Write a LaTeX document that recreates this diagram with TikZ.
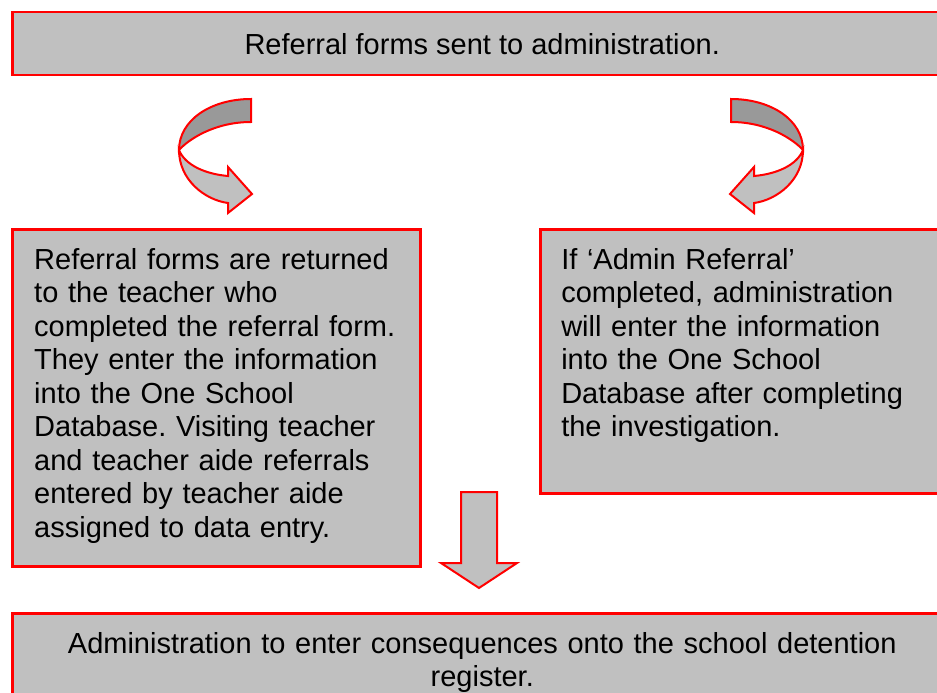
\documentclass[tikz,border=0pt]{standalone}
\usepackage{fontspec}
\setmainfont{Liberation Sans}
\usepackage{tikz}
\usepackage{xcolor}
\frenchspacing

\definecolor{boxgray}{RGB}{192,192,192}
\definecolor{backgray}{RGB}{153,153,153}

\newcommand{\boxfont}{\fontsize{29}{33.5}\selectfont}

\tikzset{
  stepbox/.style={draw=red, fill=boxgray, line width=2.5pt, anchor=north west,
    font=\boxfont, align=left, inner xsep=22pt, inner ysep=18pt, text height=22pt},
  blockarrow/.style={draw=red, line width=2pt, fill=boxgray, line join=miter},
}

% U-turn block arrow, top end of the band at the origin
\newcommand{\turnarrow}{%
  \filldraw[blockarrow, fill=backgray] (0,0) .. controls (-40,0) and (-72,21) .. (-72,51)
    .. controls (-62,40) and (-36,23) .. (0,23) -- cycle;
  \filldraw[blockarrow] (-72,51) .. controls (-72,81) and (-46,101) .. (-23,104)
    -- (-23,114) -- (1,95) -- (-23,68) -- (-23,77)
    .. controls (-46,75) and (-66,66) .. (-72,51) -- cycle;
}

\begin{document}
\begin{tikzpicture}[x=1pt, y=-1pt]
    \useasboundingbox (0,0) rectangle (937,693);
    \clip (0,0) rectangle (937,693);
    % Boxes
    \node[stepbox, align=center, inner sep=0pt, text height=, minimum width=940pt,
      minimum height=63pt] (sent) at (11,11) {Referral forms sent to administration.};
    \node[stepbox, text width=364pt, text depth=279pt] (returned) at (11,228)
      {Referral forms are returned\\ to the teacher who\\ completed the referral form.\\
       They enter the information\\ into the One School\\ Database. Visiting teacher\\
       and teacher aide referrals\\ entered by teacher aide\\ assigned to data entry.};
    \node[stepbox, inner xsep=21pt, text width=372pt, text depth=206pt] (admin) at (539,228)
      {If ‘Admin Referral’\\ completed, administration\\ will enter the information\\
       into the One School\\ Database after completing\\ the investigation.};
    \node[stepbox, align=center, text width=896pt, text depth=60pt] (register) at (11,612)
      {Administration to enter consequences onto the school detention\\ register.};
    % Turn arrows
    \begin{scope}[shift={(251,99)}]
        \turnarrow
    \end{scope}
    \begin{scope}[shift={(731,99)}, xscale=-1]
        \turnarrow
    \end{scope}
    % Down arrow
    \filldraw[blockarrow] (461,492) -- (497,492) -- (497,563) -- (517,563)
      -- (479,588) -- (441,563) -- (461,563) -- cycle;
\end{tikzpicture}
\end{document}
